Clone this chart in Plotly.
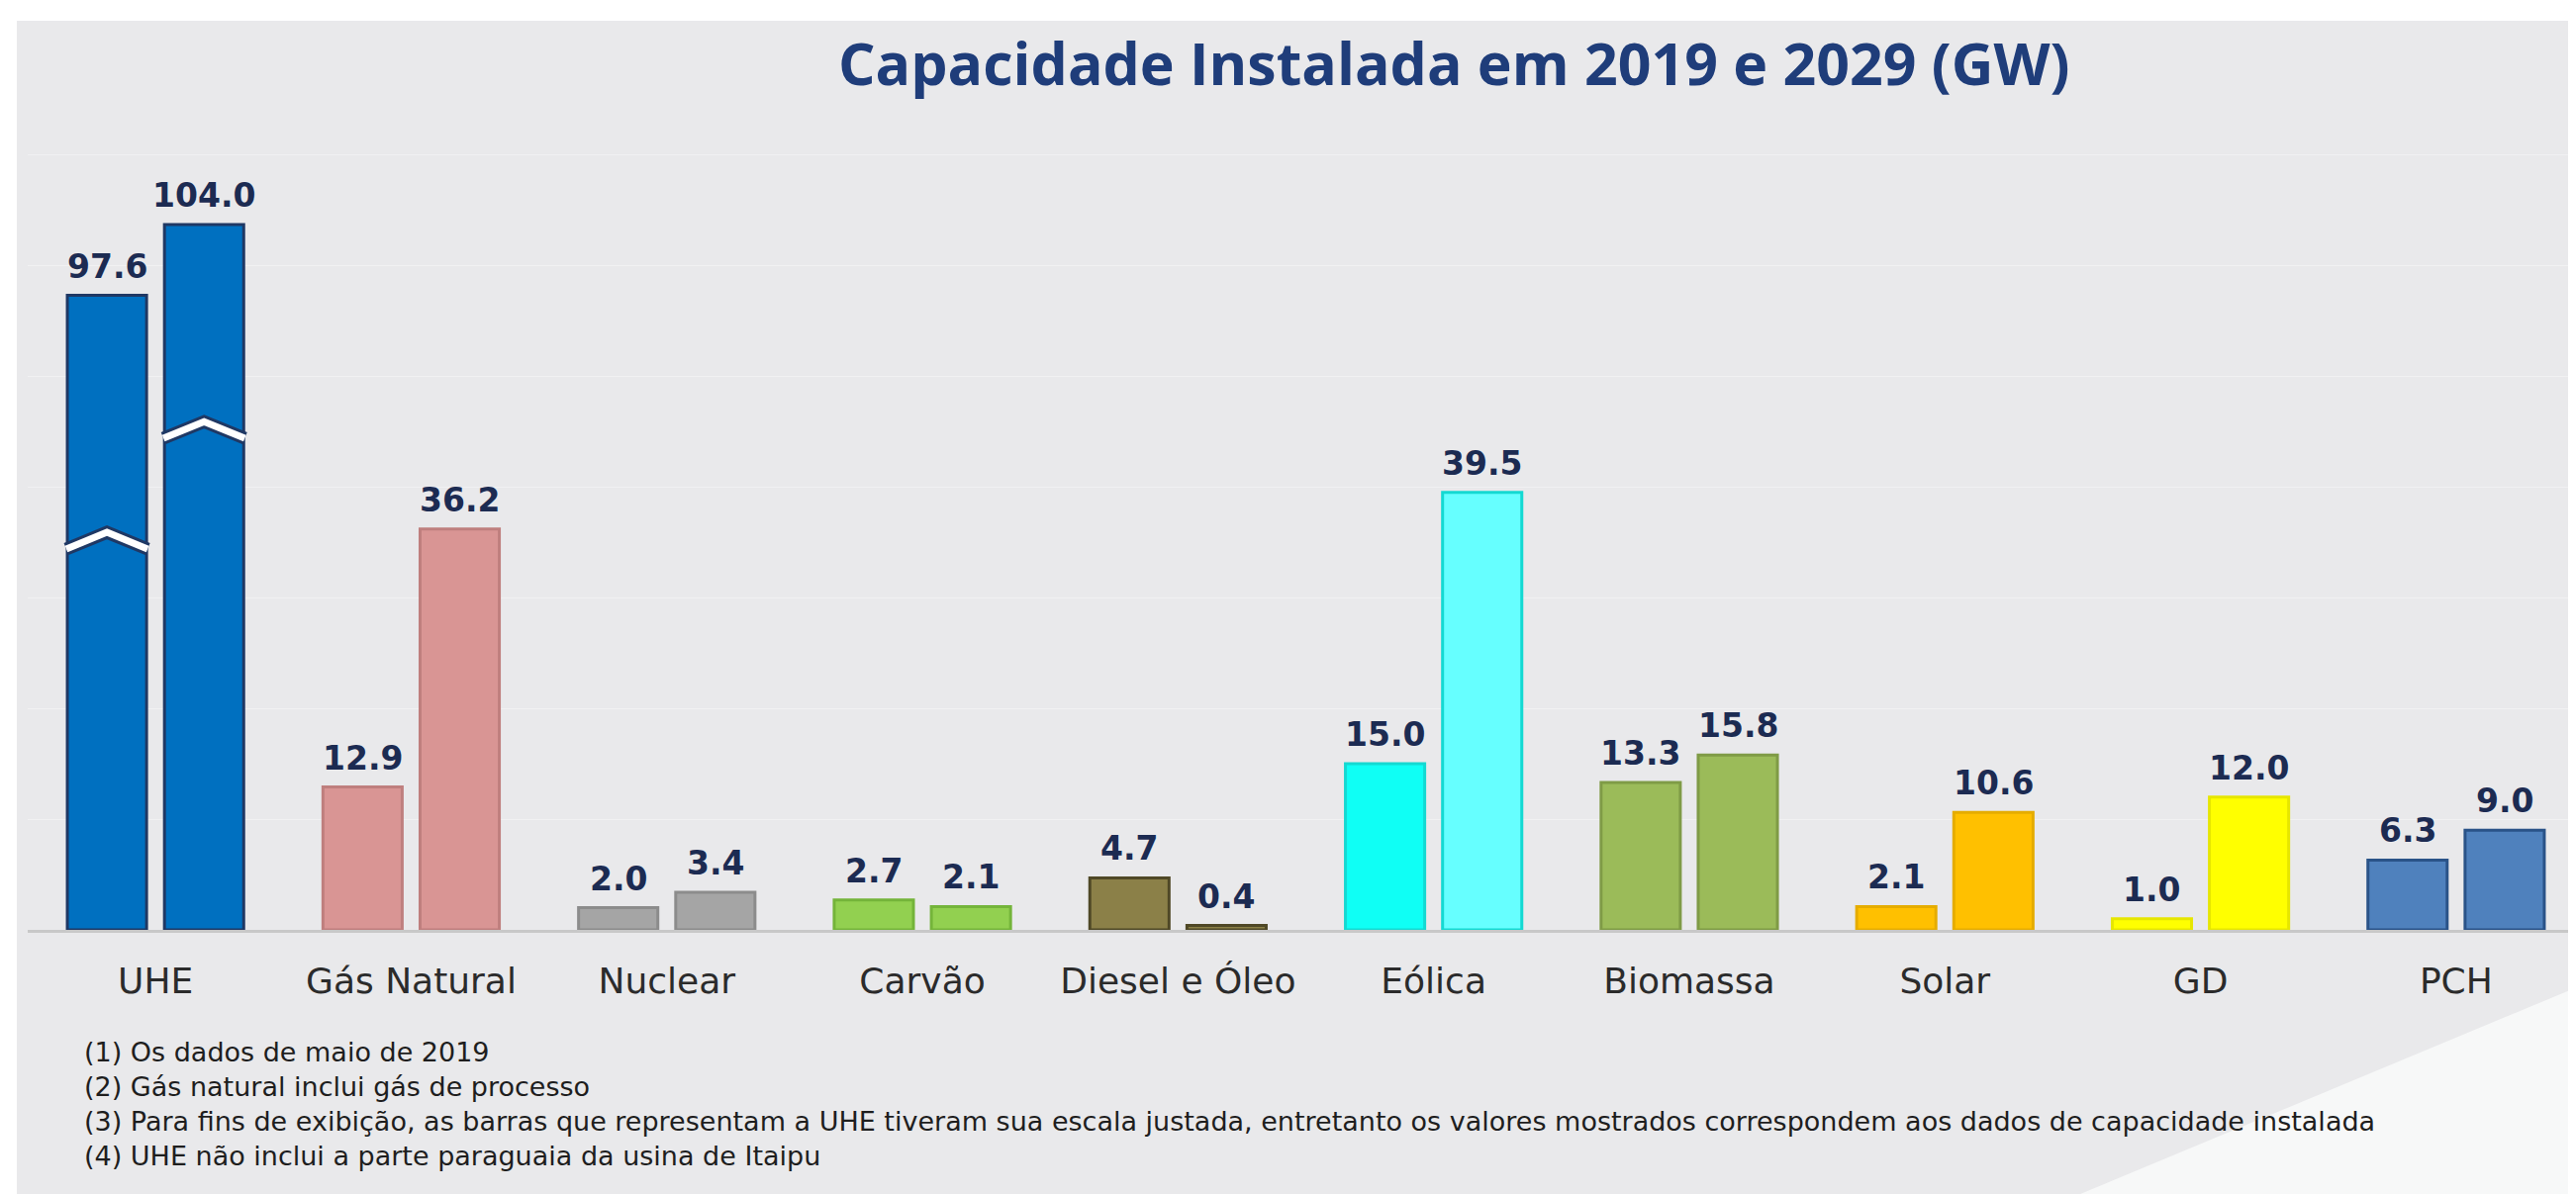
import plotly.graph_objects as go
import numpy as np

# installed capacity (GW)
categories = ["UHE", "Gás Natural", "Nuclear", "Carvão", "Diesel e Óleo",
              "Eólica", "Biomassa", "Solar", "GD", "PCH"]
cap_2019 = [97.6, 12.9, 2.0, 2.7, 4.7, 15.0, 13.3, 2.1, 1.0, 6.3]
cap_2029 = [104.0, 36.2, 3.4, 2.1, 0.4, 39.5, 15.8, 10.6, 12.0, 9.0]

# UHE bars are drawn with a cut (scale adjusted, see note 3)
uhe_cut = 40.3
uhe_break_2019 = 35.0
uhe_break_2029 = 45.0

fill_2019 = ["#0070C0", "#D99594", "#A5A5A5", "#92D050", "#8B8048",
             "#0FFFF5", "#9BBB59", "#FFC000", "#FFFF00", "#4F81BD"]
fill_2029 = ["#0070C0", "#D99594", "#A5A5A5", "#92D050", "#8B8048",
             "#66FFFF", "#9BBB59", "#FFC000", "#FFFF00", "#4F81BD"]
edge = ["#1F3864", "#BF7F7E", "#8C8C8C", "#74B43A", "#4F4826",
        "#14D9D2", "#7F9B46", "#E5AC00", "#E6E600", "#2A5388"]

notes = [
    "(1) Os dados de maio de 2019",
    "(2) Gás natural inclui gás de processo",
    "(3) Para fins de exibição, as barras que representam a UHE tiveram sua escala justada, entretanto os valores mostrados correspondem aos dados de capacidade instalada",
    "(4) UHE não inclui a parte paraguaia da usina de Itaipu",
]

W, H = 2603, 1207
ML, MR, MT, MB = 20, 0, 126, 275
YMAX = 72


def px_x(p):
    return (p - ML) / (W - ML - MR)


def px_y(p):
    return (H - MB - p) / (H - MT - MB)


pos = np.arange(len(categories))
off, bw = 0.19, 0.31

y19 = [v - uhe_cut if c == "UHE" else v for c, v in zip(categories, cap_2019)]
y29 = [v - uhe_cut if c == "UHE" else v for c, v in zip(categories, cap_2029)]

fig = go.Figure()
fig.add_trace(go.Bar(x=pos - off, y=y19, width=bw, name="2019",
                     marker=dict(color=fill_2019, line=dict(color=edge, width=3))))
fig.add_trace(go.Bar(x=pos + off, y=y29, width=bw, name="2029",
                     marker=dict(color=fill_2029, line=dict(color=edge, width=3))))

# break marks on the UHE bars
for xc, b in [(pos[0] - off, uhe_break_2019), (pos[0] + off, uhe_break_2029)]:
    xs = [xc - bw / 2 - 0.004, xc, xc + bw / 2 + 0.004]
    ys = [b - 0.6, b + 0.9, b - 0.6]
    fig.add_trace(go.Scatter(x=xs, y=ys, mode="lines", line=dict(color="#1F3864", width=13),
                             hoverinfo="skip", showlegend=False))
    fig.add_trace(go.Scatter(x=xs, y=ys, mode="lines", line=dict(color="white", width=7),
                             hoverinfo="skip", showlegend=False))

shapes = [
    dict(type="rect", xref="paper", yref="paper", layer="below",
         x0=px_x(9), x1=px_x(W + 5), y0=px_y(H + 5), y1=px_y(13),
         fillcolor="#E9E9EB", line=dict(width=0)),
    dict(type="path", xref="paper", yref="paper", layer="below",
         path=f"M {px_x(2063)} {px_y(H + 5)} L {px_x(W + 5)} {px_y(985)} L {px_x(W + 5)} {px_y(H + 5)} Z",
         fillcolor="#F7F8F8", line=dict(width=0)),
]

annotations = [
    dict(text="<b>Capacidade Instalada em 2019 e 2029 (GW)</b>", xref="paper", yref="paper",
         x=px_x(1461), y=px_y(55), xanchor="center", yanchor="middle", showarrow=False,
         font=dict(family="Open Sans", size=59, color="#1F3D7A")),
]

# value labels (real values, also on the cut UHE bars)
label_font = dict(family="DejaVu Sans", size=33, color="#1C2B52")
for xs, ys, vals in [(pos - off, y19, cap_2019), (pos + off, y29, cap_2029)]:
    for x, y, v in zip(xs, ys, vals):
        annotations.append(dict(text=f"<b>{v:.1f}</b>", x=x, y=y, xref="x", yref="y",
                                xanchor="center", yanchor="bottom", yshift=8,
                                showarrow=False, font=label_font))

# footnotes as one left-aligned block
annotations.append(dict(text="<br>".join(notes), xref="paper", yref="paper",
                        x=px_x(75), y=px_y(1038), xanchor="left", yanchor="top", align="left",
                        showarrow=False, font=dict(family="DejaVu Sans", size=27, color="#1E1E1E")))

fig.update_layout(
    width=W, height=H,
    margin=dict(l=ML, r=MR, t=MT, b=MB),
    paper_bgcolor="white", plot_bgcolor="rgba(0,0,0,0)",
    barmode="overlay", showlegend=False,
    shapes=shapes, annotations=annotations,
    xaxis=dict(range=[-0.5, len(categories) - 0.5], tickvals=pos, ticktext=categories,
               showgrid=False, zeroline=False, showline=True, linecolor="#C8C8C8", linewidth=3,
               ticks="", ticklabelstandoff=18,
               tickfont=dict(family="DejaVu Sans", size=36, color="#2B2B2B")),
    yaxis=dict(range=[0, YMAX], dtick=10, showticklabels=False, zeroline=False,
               showgrid=True, gridcolor="#F1F1F2", gridwidth=1),
)

fig.write_html("out.html")
